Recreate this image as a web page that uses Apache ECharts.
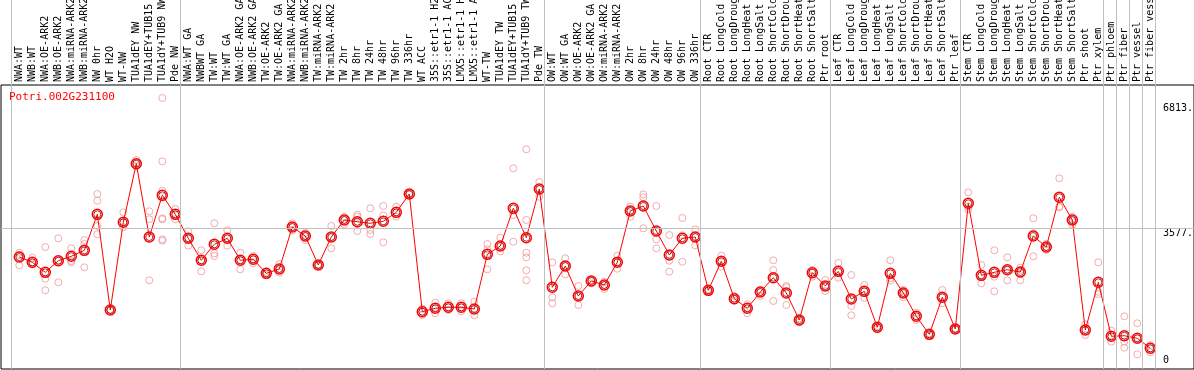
<!DOCTYPE html>
<html>
<head>
<meta charset="utf-8">
<script src="https://cdn.jsdelivr.net/npm/echarts@6.0.0/dist/echarts.min.js"></script>
<style>
html,body{margin:0;padding:0;background:#fff;}
#chart{width:1194px;height:370px;}
</style>
</head>
<body>
<div id="chart"></div>
<script>
const geneId = "Potri.002G231100";

const categories = [
  "NWA:WT","NWB:WT","NWA:OE-ARK2","NWB:OE-ARK2","NWA:miRNA-ARK2","NWB:miRNA-ARK2","NW 0hr","WT H2O","WT-NW","TUA1dEY NW","TUA1dEY+TUB15 NW","TUA1dY+TUB9 NW","Pde NW",
  "NWA:WT GA","NWBWT GA","TW:WT","TW:WT GA","NWA:OE-ARK2 GA","NWB:OE-ARK2 GA","TW:OE-ARK2","TW:OE-ARK2 GA","NWA:miRNA-ARK2 GA","NWB:miRNA-ARK2 GA","TW:miRNA-ARK2","TW:miRNA-ARK2 GA",
  "TW 2hr","TW 8hr","TW 24hr","TW 48hr","TW 96hr","TW 336hr","WT ACC","35S::etr1-1 H2O","35S::etr1-1 ACC","LMX5::etr1-1 H2O","LMX5::etr1-1 ACC","WT-TW","TUA1dEY TW","TUA1dEY+TUB15 TW","TUA1dY+TUB9 TW","Pde TW",
  "OW:WT","OW:WT GA","OW:OE-ARK2","OW:OE-ARK2 GA","OW:miRNA-ARK2","OW:miRNA-ARK2 GA","OW 2hr","OW 8hr","OW 24hr","OW 48hr","OW 96hr","OW 336hr",
  "Root CTR","Root LongCold","Root LongDrought","Root LongHeat","Root LongSalt","Root ShortCold","Root ShortDrought","Root ShortHeat","Root ShortSalt","Ptr root",
  "Leaf CTR","Leaf LongCold","Leaf LongDrought","Leaf LongHeat","Leaf LongSalt","Leaf ShortCold","Leaf ShortDrought","Leaf ShortHeat","Leaf ShortSalt","Ptr leaf",
  "Stem CTR","Stem LongCold","Stem LongDrought","Stem LongHeat","Stem LongSalt","Stem ShortCold","Stem ShortDrought","Stem ShortHeat","Stem ShortSalt","Ptr shoot",
  "Ptr xylem","Ptr phloem","Ptr fiber","Ptr vessel","Ptr fiber vessel"
];

const means = [
  2823,2686,2426,2727,2842,2997,3931,1448,3724,5244,3342,4424,3931,
  3309,2738,3153,3309,2738,2764,2400,2512,3602,3368,2616,3342,3784,3739,3698,3750,3983,4458,1404,1492,1518,1518,1474,2893,3109,4087,3324,4588,
  2037,2590,1811,2201,2097,2686,4017,4147,3498,2875,3309,3342,
  1959,2712,1741,1492,1915,2286,1889,1189,2416,2071,
  2452,1733,1933,999,2400,1889,1285,817,1778,955,
  4217,2348,2426,2494,2434,3368,3083,4373,3784,929,
  2167,766,781,714,454
];

const replicates = [
  [2935,2875,2608],[2805,2675,2624],[3083,2260,1959],[3309,2727,2167],[3049,2720,2686],[3264,3161,2556],
  [4458,4284,3628,3412],[1456,1448,1440],[3983,3724,3594],[5341,5270,5185],[4009,3802,2219],
  [6949,5307,4544,3828,3802,3283,3246],[4069,3931,3802],
  [3490,3309,3117],[2997,2738,2452],[3698,2919,2849],[3516,3309,3117],[2935,2738,2504],[2849,2764,2660],
  [2442,2400,2356],[2642,2512,2416],[3698,3602,3506],[3454,3368,3264],[2630,2616,2600],[3628,3342,3049],
  [3869,3784,3672],[3921,3869,3498],[4087,3524,3420],[4147,3905,3205],[4129,3983,3869],[4475,4458,4440],
  [1482,1404,1318],[1637,1492,1362],[1622,1518,1448],[1622,1518,1414],[1663,1474,1310],
  [3161,3023,2504],[3324,3109,2971],[5125,3913,3220],[5618,3784,2935,2816,2478,2219],[4770,4588,4388],
  [2686,1778,1622],[2790,2590,2374],[2071,1811,1578],[2226,2201,2141],[2182,2097,1993],[2857,2686,2520],
  [4129,4017,3869],[4450,4373,3568],[4147,3283,3049],[3394,2727,2442],[3835,3386,2701],[3542,3342,3127],
  [1993,1959,1923],[2857,2712,2572],[1811,1741,1689],[1596,1492,1362],[1967,1915,1811],[2738,2486,1682],
  [2071,2037,1578],[1233,1189,1129],[2486,2416,2312],[2226,2053,1941],
  [2668,2426,2286],[2356,1552,1310],[2097,1933,1767],[1033,999,947],[2738,2271,2208],[1967,1889,1778],
  [1378,1285,1189],[843,817,781],[1967,1778,1622],[970,955,940],
  [4502,4129,4061],[2616,2348,2141],[2997,2312,1933],[2816,2486,2219],[2546,2486,2219],[3828,3438,2842],
  [3161,3083,3005],[4866,4129,4113],[3869,3765,3661],[1077,929,799],
  [2686,1923,1863],[911,755,625],[1285,625,470],[1103,714,298],[540,454,350]
];

// y-axis tick labels shown on the right
const yTickValues = [3577, 6813];
const yZeroTick = [0];
const referenceLine = 3577;

// separator lines: placed before these category indices
const groupBoundaries = [0, 13, 41, 53, 63, 73, 84, 85, 86, 87, 88];

// ---- layout ----
const XMIN = -1.4077, XMAX = 90.3615;
const YMIN = -83, YMAX = 7287;
const MONO = "'DejaVu Sans Mono', monospace";

const repData = [];
replicates.forEach((arr, i) => arr.forEach(v => repData.push([i, v])));
const meanData = means.map((v, i) => [i, v]);

const chart = echarts.init(document.getElementById('chart'), null, {renderer: 'canvas'});
chart.setOption({
  animation: false,
  backgroundColor: '#fff',
  title: {
    text: geneId, left: 9, top: 92, padding: 0,
    textStyle: {color: '#ff0000', fontFamily: MONO, fontSize: 11, fontWeight: 'normal'}
  },
  grid: [
    {left: 1, right: 0, top: 85, bottom: 1, show: true, borderColor: '#000', borderWidth: 1,
     backgroundColor: 'rgba(0,0,0,0)', containLabel: false, outerBoundsMode: 'none'},
    {left: 1, right: 0, top: 0, bottom: 1, show: false, containLabel: false, outerBoundsMode: 'none'}
  ],
  xAxis: [
    {
      gridIndex: 0, type: 'value', min: XMIN, max: XMAX, position: 'top',
      axisLine: {show: false, onZero: false}, axisTick: {show: false}, splitLine: {show: false},
      axisLabel: {
        customValues: categories.map((c, i) => i),
        formatter: v => categories[Math.round(v)] || '',
        rotate: -90, margin: 3, align: 'left', verticalAlign: 'middle',
        fontFamily: MONO, fontSize: 10, color: '#000',
        showMinLabel: true, showMaxLabel: true, hideOverlap: false
      }
    },
    {gridIndex: 1, type: 'value', min: XMIN, max: XMAX, show: false, axisLine: {onZero: false}}
  ],
  yAxis: [
    {
      gridIndex: 0, type: 'value', min: YMIN, max: YMAX, position: 'right',
      axisLine: {show: false, onZero: false}, axisTick: {show: false}, splitLine: {show: false},
      axisLabel: {
        customValues: yTickValues, inside: true, margin: 31, align: 'left', verticalAlign: 'top',
        formatter: v => v === 0 ? '0' : v + '.', fontFamily: MONO, fontSize: 10, color: '#000'
      }
    },
    {
      gridIndex: 0, type: 'value', min: YMIN, max: YMAX, position: 'right',
      axisLine: {show: false, onZero: false}, axisTick: {show: false}, splitLine: {show: false},
      axisLabel: {
        customValues: yZeroTick, inside: true, margin: 31, align: 'left', verticalAlign: 'bottom',
        formatter: v => v === 0 ? '0' : v + '.', fontFamily: MONO, fontSize: 10, color: '#000'
      }
    },
    {gridIndex: 1, type: 'value', min: 0, max: 1, show: false, axisLine: {onZero: false}}
  ],
  series: [
    {
      type: 'line', xAxisIndex: 1, yAxisIndex: 2, data: [], silent: true,
      markLine: {
        silent: true, symbol: ['none', 'none'], label: {show: false},
        lineStyle: {color: '#c0c0c0', width: 1, type: 'solid'},
        data: groupBoundaries.map(k => ({xAxis: k - 0.6}))
      }
    },
    {
      type: 'scatter', xAxisIndex: 0, yAxisIndex: 0, data: repData, z: 2, silent: true,
      symbol: 'circle', symbolSize: 7,
      itemStyle: {color: 'rgba(0,0,0,0)', borderColor: '#ef9797', borderWidth: 1},
      markLine: {
        silent: true, symbol: ['none', 'none'], label: {show: false},
        lineStyle: {color: '#c0c0c0', width: 1, type: 'solid'},
        data: [{yAxis: referenceLine}]
      }
    },
    {
      type: 'line', xAxisIndex: 0, yAxisIndex: 0, data: meanData, z: 3, silent: true,
      symbol: 'circle', symbolSize: 10, showAllSymbol: true,
      lineStyle: {color: '#ff0000', width: 1},
      itemStyle: {color: 'rgba(0,0,0,0)', borderColor: '#ff0000', borderWidth: 1.5}
    },
    {
      type: 'scatter', xAxisIndex: 0, yAxisIndex: 0, data: meanData, z: 4, silent: true,
      symbol: 'circle', symbolSize: 7,
      itemStyle: {color: 'rgba(0,0,0,0)', borderColor: '#8a0000', borderWidth: 1}
    }
  ]
});
</script>
</body>
</html>
